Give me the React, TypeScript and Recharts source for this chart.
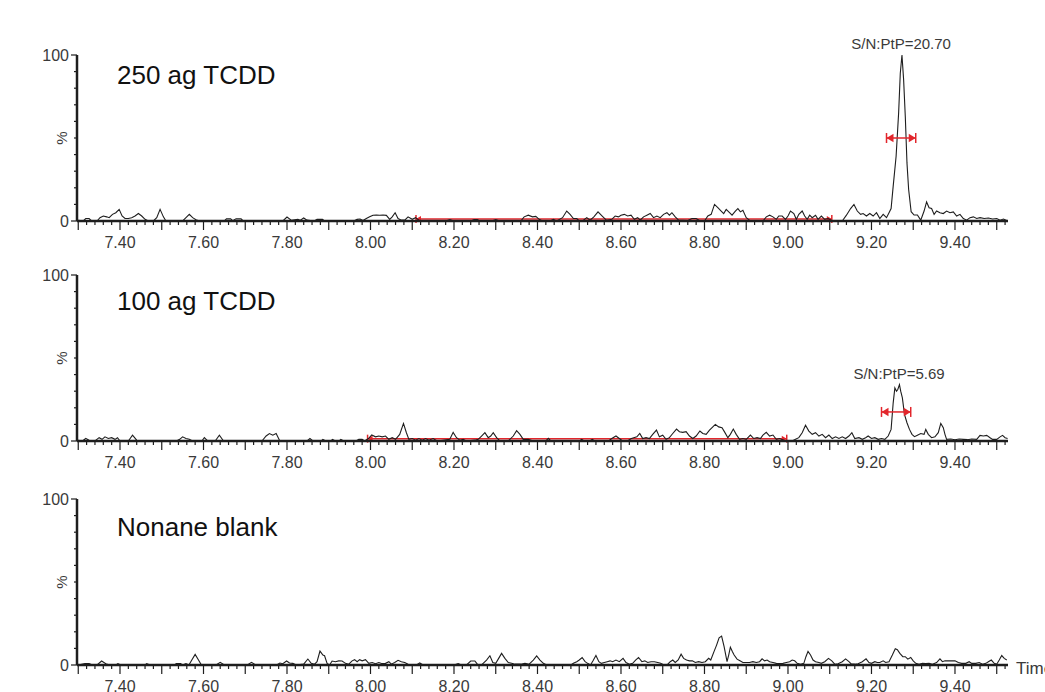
import React from 'react'
import { LineChart, Line, XAxis, YAxis, ReferenceLine, ReferenceDot } from 'recharts'

type Pt = [number, number]

// retention time axis (min) and intensity axis (%)
const timeDomain: [number, number] = [7.297, 9.527]
const timeLabels = [7.4, 7.6, 7.8, 8.0, 8.2, 8.4, 8.6, 8.8, 9.0, 9.2, 9.4]
const percentTicks = [0, 10, 20, 30, 40, 50, 60, 70, 80, 90, 100]
const percentLabels = [0, 100]

const panelTitles = ['250 ag TCDD', '100 ag TCDD', 'Nonane blank']
const snLabels = ['S/N:PtP=20.70', 'S/N:PtP=5.69']
const snAnchors: Pt[] = [[9.271, 100], [9.266, 34]]
const noiseRanges: Pt[] = [[8.109, 9.105], [7.993, 8.997]]
const noiseLevels = [1.2, 1.4]
const widthRanges: Pt[] = [[9.236, 9.306], [9.224, 9.294]]
const widthLevels = [50, 17.5]

// [time, %]
const trace250: Pt[] = [
  [7.3, 0.5], [7.312, 0], [7.318, 1.5], [7.326, 1.5], [7.332, 0], [7.345, 0], [7.352, 2], [7.36, 3],
  [7.368, 2.5], [7.374, 2], [7.382, 4], [7.39, 5], [7.398, 7], [7.405, 3], [7.412, 1.5], [7.42, 1.5],
  [7.428, 2], [7.436, 3], [7.444, 4.5], [7.452, 3], [7.46, 1], [7.468, 0], [7.48, 0], [7.488, 2],
  [7.496, 7], [7.504, 2.5], [7.51, 0], [7.55, 0], [7.558, 2], [7.566, 4], [7.574, 2], [7.582, 0.8],
  [7.59, 0], [7.65, 0], [7.655, 1.3], [7.665, 1.3], [7.67, 0.2], [7.678, 1.3], [7.69, 1.3], [7.695, 0],
  [7.79, 0], [7.8, 2.4], [7.81, 0.5], [7.818, 0.8], [7.826, 1], [7.832, 0.5], [7.84, 1.8], [7.848, 0.5],
  [7.865, 0], [7.872, 1], [7.885, 1], [7.89, 0], [7.96, 0], [7.968, 1], [7.975, 1.2], [7.982, 0.3],
  [7.99, 1.5], [7.998, 2.5], [8.006, 3.5], [8.014, 3.6], [8.022, 3.5], [8.03, 3.6], [8.038, 3.4], [8.046, 1],
  [8.052, 2.5], [8.059, 5], [8.066, 1.5], [8.074, 0.5], [8.082, 0.5], [8.09, 2.5], [8.1, 1], [8.108, 2],
  [8.116, 0.5], [8.13, 0], [8.18, 0], [8.19, 0.8], [8.2, 0], [8.24, 0], [8.248, 0.8], [8.256, 0.8],
  [8.262, 0], [8.29, 0], [8.3, 0.8], [8.31, 0], [8.36, 0], [8.368, 2.5], [8.378, 3.5], [8.388, 2.5],
  [8.396, 2.8], [8.404, 1], [8.412, 0], [8.43, 0], [8.438, 1], [8.446, 0], [8.46, 2], [8.47, 6],
  [8.478, 4], [8.486, 1.5], [8.494, 1.5], [8.5, 0], [8.51, 0.5], [8.518, 2], [8.526, 0.5], [8.535, 2.5],
  [8.545, 5.5], [8.555, 3], [8.565, 0.5], [8.578, 1], [8.586, 3], [8.594, 2.5], [8.6, 3.5], [8.608, 4],
  [8.616, 3], [8.624, 3.5], [8.632, 1], [8.64, 2], [8.646, 0.5], [8.654, 2.5], [8.662, 3.5], [8.67, 4.5],
  [8.678, 2], [8.686, 3], [8.694, 2], [8.702, 4], [8.71, 5], [8.716, 3.5], [8.722, 5], [8.73, 2.5],
  [8.738, 0.5], [8.76, 0.3], [8.77, 1.5], [8.78, 1.5], [8.79, 0], [8.8, 0], [8.808, 3], [8.816, 4],
  [8.824, 10], [8.832, 8], [8.84, 6], [8.846, 4.5], [8.852, 7], [8.86, 5], [8.866, 3.5], [8.874, 6],
  [8.88, 7.5], [8.886, 5.5], [8.892, 6.5], [8.9, 2], [8.91, 0], [8.94, 0], [8.948, 2.5], [8.956, 3.5],
  [8.964, 2.5], [8.972, 1], [8.978, 3], [8.986, 3], [8.994, 1], [9.0, 3], [9.006, 6], [9.014, 4.5],
  [9.02, 1], [9.026, 4], [9.034, 6], [9.04, 3], [9.046, 1], [9.052, 3.5], [9.058, 2], [9.066, 3.5],
  [9.072, 1], [9.08, 3], [9.088, 1], [9.096, 1.5], [9.104, 0.5], [9.11, 0], [9.13, 0], [9.14, 3.5],
  [9.15, 7.5], [9.158, 10], [9.166, 6], [9.174, 4], [9.18, 4.5], [9.188, 3], [9.196, 4.5], [9.204, 3],
  [9.212, 5], [9.22, 1.5], [9.228, 4], [9.236, 2], [9.242, 5], [9.247, 7.5], [9.252, 21], [9.259, 39],
  [9.265, 65], [9.269, 89], [9.273, 100], [9.277, 85], [9.281, 63], [9.285, 35], [9.289, 19], [9.295, 5.6],
  [9.302, 3.6], [9.31, 3.6], [9.318, 0.5], [9.326, 6], [9.332, 11.5], [9.338, 8], [9.344, 7.5], [9.35, 4],
  [9.356, 6], [9.364, 5], [9.372, 4.5], [9.38, 6], [9.388, 5], [9.396, 5.5], [9.404, 3], [9.412, 4],
  [9.42, 1.5], [9.428, 0.5], [9.436, 2], [9.444, 2.5], [9.452, 1.5], [9.46, 2], [9.47, 1.5], [9.48, 1.8],
  [9.49, 1.2], [9.5, 1.5], [9.508, 0.5], [9.516, 1.2], [9.524, 0.3],
]

const trace100: Pt[] = [
  [7.3, 0.5], [7.31, 0], [7.318, 1.5], [7.326, 0.5], [7.34, 0], [7.35, 2], [7.357, 1], [7.364, 2.5],
  [7.372, 1.5], [7.38, 2], [7.388, 1], [7.394, 2], [7.4, 0], [7.42, 0], [7.43, 3.5], [7.44, 0.5],
  [7.45, 0], [7.535, 0], [7.543, 1], [7.55, 2.5], [7.558, 1.5], [7.566, 1], [7.574, 0], [7.596, 0],
  [7.602, 2], [7.61, 0], [7.628, 0], [7.638, 3.5], [7.648, 0], [7.74, 0], [7.75, 3], [7.758, 4.5],
  [7.766, 3.5], [7.774, 4.5], [7.782, 0.5], [7.79, 0], [7.848, 0], [7.855, 1.5], [7.862, 0], [7.882, 0],
  [7.886, 1], [7.893, 0], [7.905, 0], [7.909, 1], [7.916, 0], [7.925, 0], [7.929, 1], [7.936, 0],
  [7.965, 0], [7.972, 1], [7.98, 1], [7.986, 0], [7.995, 1.5], [8.003, 3.6], [8.012, 2.5], [8.02, 3],
  [8.028, 2.5], [8.036, 3], [8.044, 1], [8.052, 2], [8.06, 1], [8.07, 4], [8.079, 10.6], [8.086, 5],
  [8.092, 1], [8.1, 1.5], [8.108, 0.5], [8.116, 1.5], [8.124, 0.5], [8.132, 1.5], [8.14, 0.5], [8.15, 1.5],
  [8.16, 0], [8.19, 1], [8.198, 5.2], [8.206, 2], [8.214, 0.5], [8.222, 1], [8.23, 0], [8.25, 0.5],
  [8.258, 1], [8.266, 3], [8.274, 5], [8.282, 2], [8.288, 3], [8.294, 5], [8.302, 2], [8.31, 0],
  [8.33, 0], [8.342, 3], [8.35, 6.2], [8.358, 4], [8.366, 1], [8.378, 1], [8.39, 0], [8.42, 0],
  [8.426, 1.6], [8.432, 0], [8.5, 0], [8.506, 1], [8.512, 0], [8.525, 0], [8.531, 1], [8.538, 0],
  [8.57, 0], [8.578, 1.5], [8.588, 3], [8.596, 1.5], [8.604, 0], [8.615, 0], [8.625, 1.5], [8.638, 2.5],
  [8.645, 4.6], [8.652, 1.5], [8.66, 2], [8.668, 1.5], [8.676, 4], [8.685, 6.6], [8.692, 2.5], [8.7, 3.5],
  [8.708, 1], [8.716, 2], [8.724, 4.5], [8.733, 7.2], [8.74, 5.6], [8.748, 5.2], [8.756, 5.6], [8.764, 3],
  [8.772, 1.5], [8.78, 3], [8.789, 6], [8.796, 4.5], [8.804, 4], [8.812, 6.5], [8.82, 8.5], [8.826, 10],
  [8.834, 8.5], [8.842, 8], [8.848, 5.5], [8.856, 2], [8.862, 4], [8.869, 7.2], [8.876, 4], [8.884, 1],
  [8.892, 1.5], [8.9, 1], [8.91, 3.6], [8.918, 1.5], [8.926, 2], [8.934, 1.5], [8.94, 3.5], [8.948, 5.2],
  [8.956, 3], [8.964, 3.6], [8.972, 1], [8.98, 1.5], [8.99, 0.5], [9.0, 0], [9.01, 0], [9.018, 1],
  [9.026, 2], [9.034, 5], [9.042, 9.5], [9.05, 6], [9.058, 4], [9.066, 5], [9.074, 3], [9.082, 4],
  [9.09, 2], [9.098, 3.6], [9.106, 1.5], [9.114, 2.5], [9.122, 1.5], [9.13, 2.5], [9.138, 1.5], [9.146, 3],
  [9.153, 5], [9.16, 1.5], [9.17, 2], [9.178, 1], [9.186, 2], [9.192, 3], [9.2, 1.5], [9.208, 2],
  [9.216, 1], [9.224, 1.5], [9.232, 1], [9.24, 3], [9.247, 7], [9.252, 23], [9.256, 32], [9.26, 30],
  [9.263, 31], [9.267, 34], [9.27, 30], [9.274, 26], [9.279, 16], [9.285, 11], [9.291, 7], [9.297, 4],
  [9.303, 2.6], [9.31, 3.5], [9.318, 4.5], [9.326, 4], [9.33, 7], [9.336, 4], [9.344, 2], [9.352, 2.5],
  [9.36, 5], [9.366, 10.6], [9.372, 8], [9.376, 4], [9.38, 1], [9.39, 1.2], [9.4, 0.8], [9.41, 1.2],
  [9.42, 1], [9.43, 0.8], [9.44, 1.2], [9.452, 1], [9.46, 3.4], [9.468, 3], [9.476, 3.4], [9.484, 2],
  [9.49, 1], [9.5, 1], [9.508, 2.5], [9.514, 3.4], [9.52, 2], [9.526, 1.5],
]

const traceBlank: Pt[] = [
  [7.3, 0], [7.316, 0.8], [7.326, 0.8], [7.334, 0], [7.345, 0], [7.356, 2.4], [7.366, 0.8], [7.375, 0],
  [7.39, 0], [7.395, 0.8], [7.402, 0], [7.46, 0], [7.464, 0.8], [7.472, 0], [7.53, 0], [7.535, 0.8],
  [7.545, 0.8], [7.55, 0], [7.558, 0.8], [7.565, 0], [7.572, 3], [7.58, 6.4], [7.588, 3], [7.594, 0.5],
  [7.6, 0], [7.63, 0], [7.64, 1.6], [7.65, 0], [7.705, 0], [7.715, 1.6], [7.725, 0], [7.775, 0],
  [7.783, 1.2], [7.79, 0.8], [7.799, 2.4], [7.806, 1.2], [7.814, 1], [7.822, 0], [7.84, 0.5], [7.85, 3.6],
  [7.858, 1], [7.866, 0.5], [7.872, 2], [7.879, 8.4], [7.886, 6], [7.89, 5.6], [7.896, 1], [7.902, 0],
  [7.908, 2.4], [7.916, 2], [7.924, 2.5], [7.932, 2.4], [7.94, 1], [7.948, 0.5], [7.956, 2.5], [7.962, 3.2],
  [7.968, 2], [7.974, 3.2], [7.98, 2.5], [7.988, 3.2], [7.996, 1], [8.004, 1.5], [8.012, 0.8], [8.02, 1.5],
  [8.028, 0.8], [8.036, 1], [8.044, 2], [8.05, 0.5], [8.058, 1.5], [8.066, 2.8], [8.074, 2], [8.082, 1.5],
  [8.09, 0.5], [8.098, 0], [8.11, 0], [8.118, 1.2], [8.126, 0], [8.2, 0], [8.21, 0.8], [8.218, 0],
  [8.23, 0], [8.24, 2.4], [8.25, 2.4], [8.256, 0.5], [8.266, 0], [8.278, 3], [8.286, 5.6], [8.293, 1.5],
  [8.3, 1], [8.307, 4], [8.314, 7], [8.322, 4], [8.33, 1.5], [8.338, 1], [8.346, 0.5], [8.36, 0.5],
  [8.37, 1], [8.38, 0.5], [8.39, 3], [8.398, 5.5], [8.406, 3], [8.414, 1], [8.422, 0], [8.48, 0],
  [8.486, 1], [8.494, 2], [8.5, 3], [8.507, 4.5], [8.514, 2], [8.52, 1], [8.527, 0], [8.533, 2.5],
  [8.54, 5.7], [8.547, 2], [8.553, 1], [8.56, 1.5], [8.567, 2], [8.574, 2.5], [8.58, 2], [8.588, 3],
  [8.596, 2], [8.605, 4], [8.612, 1.5], [8.62, 0.5], [8.628, 1], [8.635, 3], [8.642, 4.5], [8.65, 2],
  [8.657, 2.5], [8.664, 1.5], [8.672, 2], [8.68, 2], [8.688, 1.5], [8.695, 1], [8.703, 0], [8.712, 0.5],
  [8.718, 2], [8.724, 3], [8.73, 1.5], [8.737, 3], [8.744, 6.5], [8.75, 4], [8.757, 3], [8.764, 2.5],
  [8.771, 2.5], [8.778, 1.5], [8.786, 2], [8.794, 1.5], [8.802, 2], [8.81, 4], [8.815, 3], [8.823, 8.2],
  [8.829, 12], [8.835, 16.4], [8.841, 17.4], [8.847, 11], [8.854, 2], [8.858, 6], [8.862, 10.7], [8.867, 8],
  [8.871, 6], [8.878, 3.5], [8.885, 2.5], [8.892, 1.5], [8.9, 1.5], [8.908, 1.5], [8.916, 2], [8.924, 1.5],
  [8.932, 2], [8.938, 3.7], [8.944, 2.5], [8.95, 3], [8.956, 2], [8.964, 1.5], [8.972, 1], [8.98, 0.8],
  [8.988, 1], [8.996, 1.5], [9.004, 2], [9.01, 3], [9.016, 2.5], [9.022, 1], [9.03, 0.5], [9.038, 1],
  [9.043, 5], [9.048, 8.2], [9.054, 6], [9.06, 3], [9.066, 2], [9.074, 1.5], [9.08, 1], [9.088, 2],
  [9.097, 4], [9.105, 2.5], [9.112, 0.5], [9.12, 0.8], [9.13, 2], [9.138, 3.7], [9.146, 2], [9.152, 0.5],
  [9.16, 0.5], [9.168, 0.8], [9.178, 2], [9.187, 3.7], [9.194, 1.5], [9.2, 1], [9.208, 2], [9.214, 1.5],
  [9.22, 1.5], [9.228, 2.5], [9.234, 1.5], [9.242, 2], [9.25, 6], [9.257, 9.8], [9.262, 9.2], [9.268, 7],
  [9.275, 5], [9.281, 5], [9.287, 3.5], [9.294, 4.5], [9.3, 2.5], [9.306, 1], [9.314, 0.5], [9.322, 1],
  [9.33, 0.8], [9.338, 1], [9.346, 0.5], [9.356, 1.5], [9.364, 3.7], [9.37, 2], [9.376, 2.5], [9.384, 2.5],
  [9.392, 2.5], [9.4, 2.5], [9.408, 1.5], [9.416, 1], [9.426, 1], [9.434, 2], [9.44, 1], [9.45, 1],
  [9.458, 1.5], [9.466, 0.5], [9.474, 1], [9.48, 2], [9.487, 3], [9.494, 1], [9.5, 0.5], [9.506, 3],
  [9.512, 5.7], [9.518, 4], [9.524, 3],
]

const traces = [trace250, trace100, traceBlank]

// minor ticks every 0.02 min
const timeTicks = Array.from({ length: 112 }, (_, i) => Math.round((7.3 + i * 0.02) * 100) / 100)

const INK = '#1e1e1e'
const LABEL = '#3a3a3a'
const RED = '#e2262c'
const FONT = '"Liberation Sans", Arial, Helvetica, sans-serif'

const PLOT_H = 166
const TOP_PAD = 30
const panelTops = [55, 275, 499]
const titleBaselines = [84, 310, 536]

function TimeTick({ x, y, payload }: any) {
  const h = Math.round(payload.value * 100)
  const major = h % 10 === 0
  const labelled = timeLabels.some((t) => Math.round(t * 100) === h)
  return (
    <g>
      <line x1={x} x2={x} y1={y} y2={y + (major ? 9 : 4)} stroke={INK} strokeWidth={1.2} />
      {labelled && (
        <text x={x} y={y + 27} textAnchor="middle" fontSize={16} fontFamily={FONT} fill={LABEL}>
          {payload.value.toFixed(2)}
        </text>
      )}
    </g>
  )
}

function PercentTick({ x, y, payload }: any) {
  const v = payload.value
  const labelled = percentLabels.includes(v)
  return (
    <g>
      <line x1={x - (labelled ? 6 : 3)} x2={x} y1={y} y2={y} stroke={INK} strokeWidth={1.2} />
      {labelled && (
        <text x={x - 8} y={y + 6} textAnchor="end" fontSize={16} fontFamily={FONT} fill={LABEL}>
          {v}
        </text>
      )}
      {v === 50 && (
        <text
          x={x - 10}
          y={y}
          textAnchor="middle"
          fontSize={15}
          fontFamily={FONT}
          fill={LABEL}
          transform={`rotate(-90 ${x - 10} ${y})`}
        >
          %
        </text>
      )}
    </g>
  )
}

function bracket(barH: number, head: number) {
  return (p: any) => {
    const { x1, x2, y1 } = p
    const y = y1
    const hw = head * 0.6
    return (
      <g>
        <line x1={x1} x2={x2} y1={y} y2={y} stroke={RED} strokeWidth={1.5} />
        <line x1={x1} x2={x1} y1={y - barH} y2={y + barH} stroke={RED} strokeWidth={1.5} />
        <line x1={x2} x2={x2} y1={y - barH} y2={y + barH} stroke={RED} strokeWidth={1.5} />
        <path d={`M${x1},${y} L${x1 + head},${y - hw} L${x1 + head},${y + hw} Z`} fill={RED} />
        <path d={`M${x2},${y} L${x2 - head},${y - hw} L${x2 - head},${y + hw} Z`} fill={RED} />
      </g>
    )
  }
}

function Panel({ index }: { index: number }) {
  const data = traces[index].map(([t, v]) => ({ t, v }))
  const noise = noiseRanges[index]
  const widthR = widthRanges[index]
  const sn = snAnchors[index]
  return (
    <div style={{ position: 'absolute', left: 0, top: panelTops[index] - TOP_PAD }}>
      <LineChart
        width={1045}
        height={TOP_PAD + PLOT_H + 40}
        data={data}
        margin={{ top: TOP_PAD, right: 37, bottom: 0, left: 0 }}
      >
        <XAxis
          type="number"
          dataKey="t"
          domain={timeDomain}
          allowDataOverflow
          ticks={timeTicks}
          interval={0}
          tick={<TimeTick />}
          tickLine={false}
          tickSize={0}
          tickMargin={0}
          height={40}
          axisLine={{ stroke: INK, strokeWidth: 2.5 }}
        />
        <YAxis
          type="number"
          domain={[0, 100]}
          ticks={percentTicks}
          interval={0}
          tick={<PercentTick />}
          tickLine={false}
          tickSize={0}
          tickMargin={0}
          width={77}
          axisLine={{ stroke: INK, strokeWidth: 2.5 }}
        />
        {noise && (
          <ReferenceLine
            segment={[
              { x: noise[0], y: noiseLevels[index] },
              { x: noise[1], y: noiseLevels[index] },
            ]}
            shape={bracket(4, 5)}
          />
        )}
        <Line
          type="linear"
          dataKey="v"
          stroke={INK}
          strokeWidth={1.1}
          dot={false}
          activeDot={false}
          isAnimationActive={false}
        />
        {widthR && (
          <ReferenceLine
            segment={[
              { x: widthR[0], y: widthLevels[index] },
              { x: widthR[1], y: widthLevels[index] },
            ]}
            shape={bracket(5, 7)}
          />
        )}
        {sn && (
          <ReferenceDot
            x={sn[0]}
            y={sn[1]}
            r={0}
            fill="none"
            stroke="none"
            label={{
              value: snLabels[index],
              position: 'top',
              offset: 6,
              fontSize: 15,
              fontFamily: FONT,
              fill: LABEL,
            }}
          />
        )}
      </LineChart>
    </div>
  )
}

export default function App() {
  return (
    <div
      style={{
        position: 'absolute',
        left: 0,
        top: 0,
        width: 1045,
        height: 692,
        overflow: 'hidden',
        background: '#fff',
      }}
    >
      {[0, 1, 2].map((i) => (
        <Panel key={i} index={i} />
      ))}
      <svg
        width={1045}
        height={692}
        style={{ position: 'absolute', left: 0, top: 0, pointerEvents: 'none' }}
      >
        {panelTitles.map((title, i) => (
          <text key={title} x={117} y={titleBaselines[i]} fontSize={26} fontFamily={FONT} fill="#111">
            {title}
          </text>
        ))}
        <text x={1016} y={674} fontSize={17} fontFamily={FONT} fill={LABEL}>
          Time
        </text>
      </svg>
    </div>
  )
}
